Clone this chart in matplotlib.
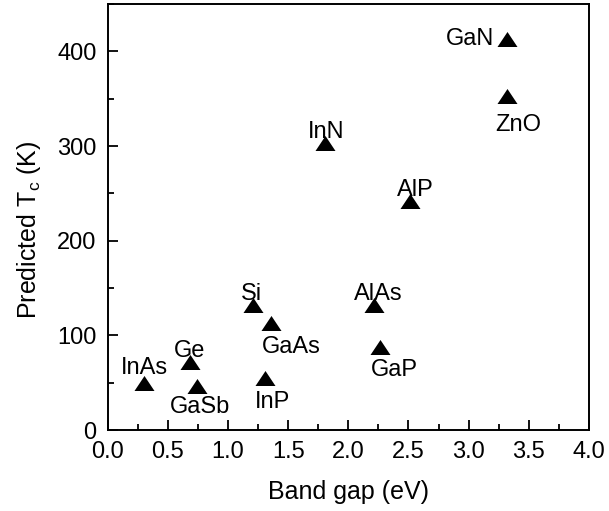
import numpy as np
import matplotlib.pyplot as plt
from matplotlib.ticker import MultipleLocator

plt.rcParams['font.family'] = ['Liberation Sans', 'DejaVu Sans']
plt.rcParams['mathtext.fontset'] = 'custom'
plt.rcParams['mathtext.rm'] = 'Liberation Sans'
plt.rcParams['mathtext.it'] = 'Liberation Sans'

# band gap (eV) and predicted Curie temperature (K)
materials = ['InAs', 'Ge', 'GaSb', 'Si', 'GaAs', 'InP',
             'InN', 'AlAs', 'GaP', 'AlP', 'ZnO', 'GaN']
band_gap = [0.30, 0.68, 0.74, 1.21, 1.36, 1.31,
            1.81, 2.21, 2.26, 2.51, 3.32, 3.32]
tc = [50, 72, 47, 132, 113, 55,
      303, 132, 88, 242, 353, 413]

# label offsets in points and horizontal alignment
offsets = {
    'InAs': (0.5, 6.5, 'center'), 'Ge': (0, 3.6, 'center'),
    'GaSb': (2.4, -19.8, 'center'), 'Si': (-1.2, 3.8, 'center'),
    'GaAs': (14.4, -21.8, 'center'), 'InP': (5.0, -21.6, 'center'),
    'InN': (0.7, 4.1, 'center'), 'AlAs': (3.0, 3.8, 'center'),
    'GaP': (10.3, -20.9, 'center'), 'AlP': (3.9, 3.3, 'center'),
    'ZnO': (7.9, -25.2, 'center'), 'GaN': (-9.4, -4.0, 'right'),
}

fig = plt.figure(figsize=(6.09, 5.11), dpi=100)
ax = fig.add_axes([0.177, 0.1585, 0.79, 0.8335])

tri = [(-1, -0.75), (1, -0.75), (0, 0.75)]
ax.scatter(band_gap, tc, marker=tri, s=14.4**2, c='black', linewidths=0, zorder=3)

for name, x, y in zip(materials, band_gap, tc):
    dx, dy, ha = offsets[name]
    ax.annotate(name, (x, y), xytext=(dx, dy), textcoords='offset points',
                ha=ha, va='baseline', fontsize=17)

ax.set_xlim(0, 4)
ax.set_ylim(0, 450)
ax.xaxis.set_major_locator(MultipleLocator(0.5))
ax.xaxis.set_minor_locator(MultipleLocator(0.25))
ax.yaxis.set_major_locator(MultipleLocator(100))
ax.yaxis.set_minor_locator(MultipleLocator(50))
ax.xaxis.set_major_formatter(lambda v, p: f'{v:.1f}')

ax.tick_params(which='both', direction='in', width=1.3, labelsize=17)
ax.tick_params(which='major', length=7, pad=8)
ax.tick_params(which='minor', length=4.5)
for sp in ax.spines.values():
    sp.set_linewidth(1.4)

ax.set_xlabel('Band gap (eV)', fontsize=18, labelpad=12)
ax.set_ylabel('Predicted T$_\\mathregular{c}$ (K)', fontsize=18)
ax.yaxis.set_label_coords(-0.135, 0.47)

fig.savefig('out.png', dpi=100)
